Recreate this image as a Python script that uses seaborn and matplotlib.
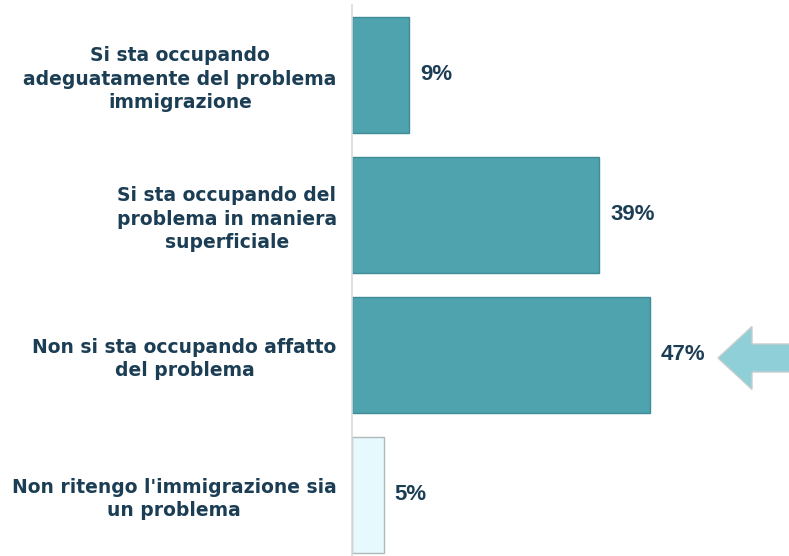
import numpy as np
import pandas as pd
import matplotlib.pyplot as plt
import seaborn as sns
from matplotlib.patches import FancyArrow

# data
categories = [
    "Si sta occupando\nadeguatamente del problema\nimmigrazione",
    "Si sta occupando del\nproblema in maniera\nsuperficiale",
    "Non si sta occupando affatto\ndel problema",
    "Non ritengo l'immigrazione sia\nun problema",
]
values = [9, 39, 47, 5]
value_labels = ["9%", "39%", "47%", "5%"]
bar_colors = ["#4FA3AE", "#4FA3AE", "#4FA3AE", "#E6F9FC"]
edge_colors = ["#3F8C96", "#3F8C96", "#3F8C96", "#AEB9BB"]

TEXT = "#1C3E55"

df = pd.DataFrame({"cat": categories, "val": values})

sns.set_style("white")
fig = plt.figure(figsize=(7.89, 5.56), dpi=100)
ax = fig.add_axes([352 / 789, 0, 1 - 352 / 789, 1 - 5 / 556])

sns.barplot(data=df, x="val", y="cat", hue="cat", palette=bar_colors,
            legend=False, width=0.83, saturation=1, ax=ax, orient="h")

for patch, ec in zip(ax.patches, edge_colors):
    patch.set_edgecolor(ec)
    patch.set_linewidth(1.0)

ax.set_xlim(0, 69)
ax.set_ylim(3.436, -0.5)

# value labels to the right of each bar
for i, (v, lab) in enumerate(zip(values, value_labels)):
    ax.annotate(lab, (v, i), xytext=(8, 0), textcoords="offset points",
                ha="left", va="center", fontsize=16, fontweight="bold",
                color=TEXT, family="Liberation Sans")

ax.set_xlabel("")
ax.set_ylabel("")
ax.set_xticks([])
ax.tick_params(axis="y", length=0, pad=11)
for t in ax.get_yticklabels():
    t.set_multialignment("center")
    t.set_fontsize(13.5)
    t.set_fontweight("bold")
    t.set_color(TEXT)
    t.set_linespacing(1.3)

for s in ["top", "right", "bottom"]:
    ax.spines[s].set_visible(False)
ax.spines["left"].set_color("#D9D9D9")
ax.spines["left"].set_linewidth(1.2)

# decorative arrow pointing at the 47% bar
arrow = FancyArrow(795 / 789, 1 - 358 / 556, -77 / 789, 0, width=28 / 556,
                   head_width=63 / 556, head_length=34 / 789,
                   length_includes_head=True, transform=fig.transFigure,
                   facecolor="#8ECFD8", edgecolor="#C8CDCE", linewidth=1)
fig.patches.append(arrow)

fig.savefig("out.png", dpi=100)
